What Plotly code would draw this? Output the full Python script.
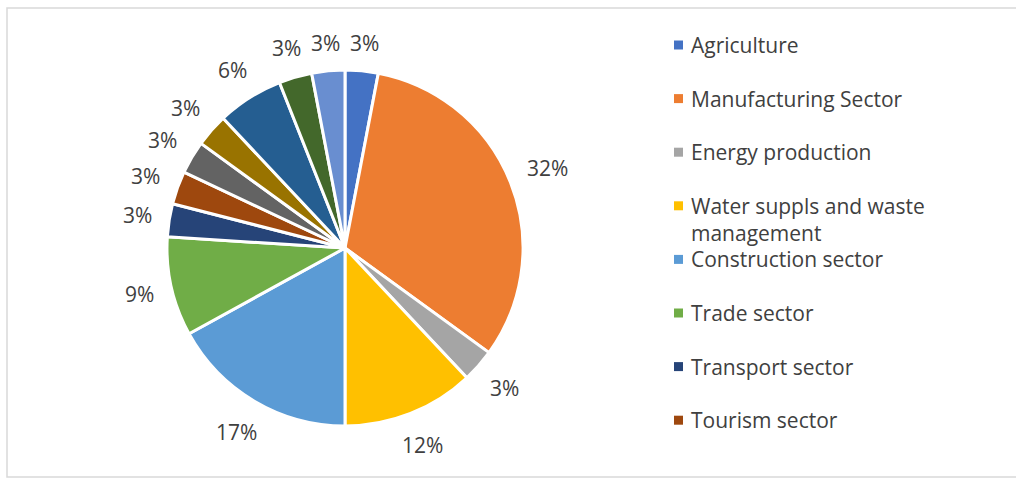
import math
import plotly.graph_objects as go

# Share of each sector (percent), clockwise from 12 o'clock
sectors = [
    "Agriculture",
    "Manufacturing Sector",
    "Energy production",
    "Water suppls and waste management",
    "Construction sector",
    "Trade sector",
    "Transport sector",
    "Tourism sector",
    "Financial sector",
    "Real estate sector",
    "ICT sector",
    "Public administration",
    "Other services",
]
shares = [3, 32, 3, 12, 17, 9, 3, 3, 3, 3, 6, 3, 3]
colors = [
    "#4472C4", "#ED7D31", "#A5A5A5", "#FFC000", "#5B9BD5", "#70AD47",
    "#264478", "#9E480E", "#636363", "#997300", "#255E91", "#43682B", "#698ED0",
]
# Legend entries shown (the legend box only has room for the first eight)
legend_labels = sectors[:8]
legend_text = {"Water suppls and waste management": "Water suppls and waste<br>management"}

W, H = 1016, 481
FONT = "Open Sans"
TEXT_COLOR = "#404040"
LABEL_SIZE = 21

# pie geometry in pixels
CX, CY, R = 345, 248, 178

fig = go.Figure()
fig.add_trace(go.Pie(
    labels=sectors,
    values=shares,
    sort=False,
    direction="clockwise",
    rotation=0,
    marker=dict(colors=colors, line=dict(color="white", width=3)),
    textinfo="none",
    showlegend=False,
    domain=dict(x=[(CX - R) / W, (CX + R) / W], y=[1 - (CY + R) / H, 1 - (CY - R) / H]),
))

annotations = []

# percentage labels placed outside each slice, along its mid-angle
total = sum(shares)
cum = 0
gap = 16
for v in shares:
    mid = (cum + v / 2) / total * 2 * math.pi
    cum += v
    s, c = math.sin(mid), math.cos(mid)
    txt = f"{v}%"
    half_w = (len(txt) - 1) * 0.29 * LABEL_SIZE + 0.42 * LABEL_SIZE
    half_h = 0.5 * LABEL_SIZE
    dist = R + gap + half_w * abs(s) + half_h * abs(c)
    px, py = CX + dist * s, CY - dist * c
    annotations.append(dict(
        xref="paper", yref="paper", x=px / W, y=1 - py / H,
        xanchor="center", yanchor="middle", showarrow=False, text=txt,
        font=dict(family=FONT, size=LABEL_SIZE, color=TEXT_COLOR),
    ))

shapes = [
    # chart area frame
    dict(type="rect", xref="paper", yref="paper",
         x0=7 / W, x1=1.02, y0=1 - 477 / H, y1=1 - 8 / H,
         line=dict(color="#D9D9D9", width=1.5), fillcolor="rgba(0,0,0,0)", layer="below"),
]
row_top, row_step = 45, 53.6
for i, name in enumerate(legend_labels):
    yc = row_top + i * row_step
    shapes.append(dict(type="rect", xref="paper", yref="paper",
                       x0=674 / W, x1=683 / W, y0=1 - (yc + 4.5) / H, y1=1 - (yc - 4.5) / H,
                       fillcolor=colors[i], line=dict(width=0)))
    annotations.append(dict(
        xref="paper", yref="paper", x=689 / W, y=1 - (yc - 16) / H,
        xanchor="left", yanchor="top", align="left", showarrow=False,
        text=legend_text.get(name, name),
        font=dict(family=FONT, size=21, color=TEXT_COLOR),
    ))

fig.update_layout(
    width=W, height=H,
    margin=dict(l=0, r=0, t=0, b=0),
    paper_bgcolor="white",
    plot_bgcolor="white",
    shapes=shapes,
    annotations=annotations,
)

fig.write_html("out.html")
